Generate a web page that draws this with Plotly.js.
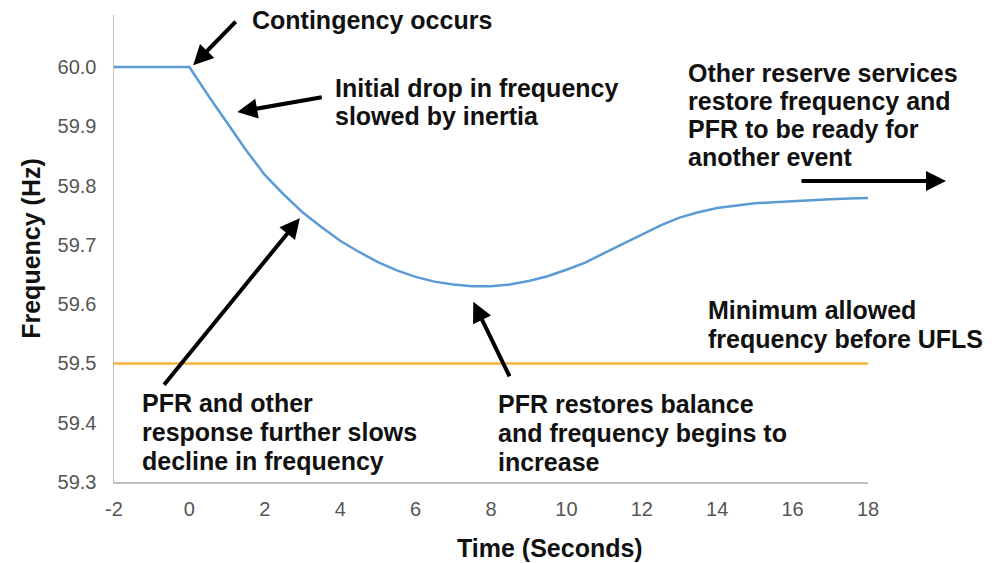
<!DOCTYPE html>
<html>
<head>
<meta charset="utf-8">
<script src="https://cdn.plot.ly/plotly-3.0.1.min.js"></script>
<style>html,body{margin:0;padding:0;background:#fff;}#chart{width:998px;height:563px;}</style>
</head>
<body>
<div id="chart"></div>
<script>
// ---- data ----
const timeSec = [-2, -1, 0, 0.5, 1, 1.5, 2, 2.5, 3, 3.5, 4, 4.5, 5, 5.5, 6, 6.5, 7, 7.5, 8, 8.5, 9, 9.5, 10, 10.5, 11, 11.5, 12, 12.5, 13, 13.5, 14, 14.5, 15, 15.5, 16, 16.5, 17, 17.5, 18];
const freqHz = [60.0, 60.0, 60.0, 59.952, 59.905, 59.86, 59.818, 59.785, 59.755, 59.73, 59.707, 59.688, 59.671, 59.657, 59.646, 59.638, 59.633, 59.63, 59.63, 59.633, 59.639, 59.647, 59.658, 59.67, 59.686, 59.702, 59.718, 59.733, 59.746, 59.755, 59.762, 59.766, 59.77, 59.772, 59.774, 59.776, 59.777, 59.778, 59.779];
const limitTime = [-2, 18];
const limitHz = [59.5, 59.5];
const xTickVals = [-2, 0, 2, 4, 6, 8, 10, 12, 14, 16, 18];
const yTickVals = [59.3, 59.4, 59.5, 59.6, 59.7, 59.8, 59.9, 60.0];
const yTickText = ['59.3', '59.4', '59.5', '59.6', '59.7', '59.8', '59.9', '60.0'];
const xTitle = 'Time (Seconds)';
const yTitle = 'Frequency (Hz)';

// annotation text blocks (lines)
const noteContingency = ['Contingency occurs'];
const noteInertia = ['Initial drop in frequency', 'slowed by inertia'];
const noteReserve = ['Other reserve services', 'restore frequency and', 'PFR to be ready for', 'another event'];
const noteMinimum = ['Minimum allowed', 'frequency before UFLS'];
const notePFR = ['PFR and other', 'response further slows', 'decline in frequency'];
const noteRestore = ['PFR restores balance', 'and frequency begins to', 'increase'];

// ---- layout helpers (pixel positions -> paper) ----
const W = 998, H = 563;
const PL = 114, PR = 868, PT = 15, PB = 482;
const xp = p => (p - PL) / (PR - PL);
const yp = p => (PB - p) / (PB - PT);
const FONT = '"Liberation Sans", Arial, sans-serif';

const annotations = [];
function block(lines, left, firstY, step) {
  lines.forEach((t, i) => {
    annotations.push({
      xref: 'paper', yref: 'paper', x: xp(left), y: yp(firstY + i * step),
      xanchor: 'left', yanchor: 'middle', showarrow: false, text: '<b>' + t + '</b>',
      font: {family: FONT, size: 25, color: '#111'}
    });
  });
}
block(noteContingency, 250, 20, 0);
block(noteInertia, 333, 88, 28.5);
block(noteReserve, 686, 73, 28);
block(noteMinimum, 706, 310, 28.5);
block(notePFR, 140, 403, 28.8);
block(noteRestore, 496, 404, 28.8);

// x-axis title (offset to the right of the plot centre, as in the source)
annotations.push({
  xref: 'paper', yref: 'paper', x: xp(550), y: yp(548), xanchor: 'center', yanchor: 'middle',
  showarrow: false, text: '<b>' + xTitle + '</b>', font: {family: FONT, size: 25, color: '#111'}
});

function arrow(x, y, ax, ay, xref, yref) {
  annotations.push({
    xref: xref || 'x', yref: yref || 'y', x: x, y: y, ax: ax, ay: ay,
    axref: 'pixel', ayref: 'pixel', text: '', showarrow: true,
    arrowhead: 2, arrowsize: 1, arrowwidth: 4, arrowcolor: '#000'
  });
}
arrow(0.1, 60.003, 44, -45);
arrow(1.27, 59.924, 86, -15);
arrow(xp(946), yp(181), -146, 0, 'paper', 'paper');
arrow(2.93, 59.745, -137, 168);
arrow(7.53, 59.604, 37, 76);

const traces = [
  {x: timeSec, y: freqHz, type: 'scatter', mode: 'lines', line: {color: '#5B9BD5', width: 2.5}, hoverinfo: 'skip'},
  {x: limitTime, y: limitHz, type: 'scatter', mode: 'lines', line: {color: '#F5B43E', width: 2.5}, hoverinfo: 'skip'}
];

const layout = {
  width: W, height: H,
  margin: {l: PL, r: W - PR, t: PT, b: H - PB, pad: 0},
  paper_bgcolor: '#fff', plot_bgcolor: '#fff',
  showlegend: false,
  font: {family: FONT},
  xaxis: {
    range: [-2, 18], tickvals: xTickVals, ticktext: xTickVals.map(String),
    showgrid: false, zeroline: false, showline: true, linecolor: '#BFBFBF', linewidth: 1.5,
    ticks: '', ticklabelstandoff: 8,
    tickfont: {family: FONT, size: 20, color: '#555'},
    automargin: false
  },
  yaxis: {
    range: [59.3, 60.0877], tickvals: yTickVals, ticktext: yTickText,
    showgrid: false, zeroline: false, showline: true, linecolor: '#BFBFBF', linewidth: 1.5,
    ticks: '', ticklabelstandoff: 12,
    tickfont: {family: FONT, size: 20, color: '#555'},
    title: {text: '<b>' + yTitle + '</b>', font: {family: FONT, size: 25, color: '#111'}, standoff: 10},
    automargin: false
  },
  annotations: annotations
};

Plotly.newPlot('chart', traces, layout, {staticPlot: true, displayModeBar: false});
</script>
</body>
</html>
